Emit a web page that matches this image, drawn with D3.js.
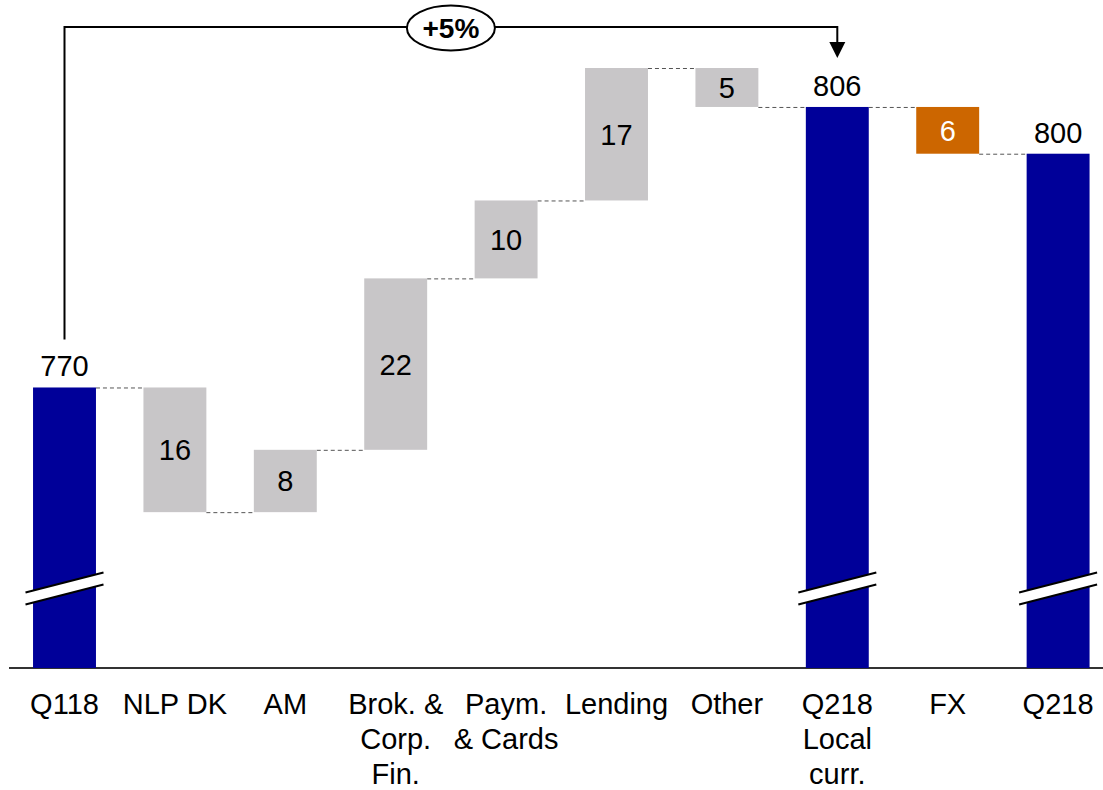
<!DOCTYPE html>
<html>
<head>
<meta charset="utf-8">
<script src="https://cdn.jsdelivr.net/npm/d3@7"></script>
<style>
  html, body { margin: 0; padding: 0; background: #fff; }
  svg { display: block; font-family: "Liberation Sans", Arial, sans-serif; }
</style>
</head>
<body>
<svg id="chart" width="1103" height="790"></svg>
<script>
// ---- data ----
const categories = ["Q118", "NLP DK", "AM", "Brok. & Corp. Fin.", "Paym. & Cards", "Lending", "Other", "Q218 Local curr.", "FX", "Q218"];
const labelLines = [["Q118"], ["NLP DK"], ["AM"], ["Brok. &", "Corp.", "Fin."], ["Paym.", "& Cards"], ["Lending"], ["Other"], ["Q218", "Local", "curr."], ["FX"], ["Q218"]];
const values = [770, -16, 8, 22, 10, 17, -5, 806, -6, 800];
const kinds = ["total", "delta", "delta", "delta", "delta", "delta", "delta", "total", "fx", "total"];
const growthLabel = "+5%";
const axisMin = 734, axisMax = 811, breakValue = 744.2;

// ---- layout ----
const W = 1103, H = 790;
const svg = d3.select("#chart");
const x = d3.scaleBand().domain(categories).range([9.3, 1113.3]).paddingInner(0.43).paddingOuter(0.215);
const y = d3.scaleLinear().domain([axisMin, axisMax]).range([668, 68]);
const colors = { total: "#000099", delta: "#C8C6C8", fx: "#CC6600" };
const fontSize = 29;

// compute waterfall
let run = 0;
const bars = categories.map((c, i) => {
  const v = values[i];
  let y0, y1;
  if (kinds[i] === "total") { y0 = axisMin; y1 = v; run = v; }
  else { y0 = run; y1 = run + v; run = y1; }
  return { c, i, v, kind: kinds[i], lo: Math.min(y0, y1), hi: Math.max(y0, y1), end: run };
});

// axis line
svg.append("line")
  .attr("x1", 9).attr("x2", W)
  .attr("y1", y(axisMin)).attr("y2", y(axisMin))
  .attr("stroke", "#333").attr("stroke-width", 2);

// connectors
bars.slice(0, -1).forEach((b, i) => {
  const n = bars[i + 1];
  svg.append("line")
    .attr("x1", x(b.c) + x.bandwidth()).attr("x2", x(n.c))
    .attr("y1", y(b.end) + 0.5).attr("y2", y(b.end) + 0.5)
    .attr("stroke", "#555").attr("stroke-width", 1)
    .attr("stroke-dasharray", "4,3");
});

// bars
svg.selectAll("rect.bar").data(bars).join("rect")
  .attr("class", "bar")
  .attr("x", d => x(d.c)).attr("width", x.bandwidth())
  .attr("y", d => y(d.hi)).attr("height", d => y(d.lo) - y(d.hi))
  .attr("fill", d => colors[d.kind]);

// break marks on totals
bars.filter(d => d.kind === "total").forEach(d => {
  const cx = x(d.c) + x.bandwidth() / 2;
  const yc = y(breakValue);
  const hw = 39, rise = 10, gap = 12;
  const g = svg.append("g");
  g.append("polygon")
    .attr("points", [[cx - hw, yc + rise - gap / 2], [cx + hw, yc - rise - gap / 2], [cx + hw, yc - rise + gap / 2], [cx - hw, yc + rise + gap / 2]].map(p => p.join(",")).join(" "))
    .attr("fill", "#fff");
  [-gap / 2, gap / 2].forEach(o => {
    g.append("line")
      .attr("x1", cx - hw).attr("y1", yc + rise + o)
      .attr("x2", cx + hw).attr("y2", yc - rise + o)
      .attr("stroke", "#000").attr("stroke-width", 2);
  });
});

// value labels
bars.forEach(d => {
  const cx = x(d.c) + x.bandwidth() / 2;
  if (d.kind === "total") {
    svg.append("text").attr("x", cx).attr("y", y(d.hi) - 11)
      .attr("text-anchor", "middle").attr("font-size", fontSize).attr("fill", "#000")
      .text(Math.abs(d.v));
  } else {
    svg.append("text").attr("x", cx).attr("y", (y(d.hi) + y(d.lo)) / 2)
      .attr("dy", "0.36em")
      .attr("text-anchor", "middle").attr("font-size", fontSize)
      .attr("fill", d.kind === "fx" ? "#fff" : "#000")
      .text(Math.abs(d.v));
  }
});

// category labels
bars.forEach(d => {
  const cx = x(d.c) + x.bandwidth() / 2;
  const t = svg.append("text").attr("text-anchor", "middle").attr("font-size", fontSize).attr("fill", "#000");
  labelLines[d.i].forEach((line, k) => {
    t.append("tspan").attr("x", cx).attr("y", 713.5 + k * 35).text(line);
  });
});

// growth bracket
const a = bars[0], b = bars[7];
const ax = x(a.c) + x.bandwidth() / 2, bx = x(b.c) + x.bandwidth() / 2;
const topY = 27;
svg.append("path")
  .attr("d", `M${ax},${y(a.hi) - 48} V${topY} H${bx} V${y(b.hi) - 64}`)
  .attr("fill", "none").attr("stroke", "#000").attr("stroke-width", 2);
svg.append("path")
  .attr("d", `M${bx - 8},${y(b.hi) - 65} L${bx + 8},${y(b.hi) - 65} L${bx},${y(b.hi) - 49} Z`)
  .attr("fill", "#000");
const mx = (ax + bx) / 2;
svg.append("ellipse").attr("cx", mx).attr("cy", topY + 1).attr("rx", 44).attr("ry", 22.5)
  .attr("fill", "#fff").attr("stroke", "#000").attr("stroke-width", 2);
svg.append("text").attr("x", mx).attr("y", topY + 1).attr("dy", "0.36em")
  .attr("text-anchor", "middle").attr("font-size", 28).attr("font-weight", "bold")
  .text(growthLabel);
</script>
</body>
</html>
